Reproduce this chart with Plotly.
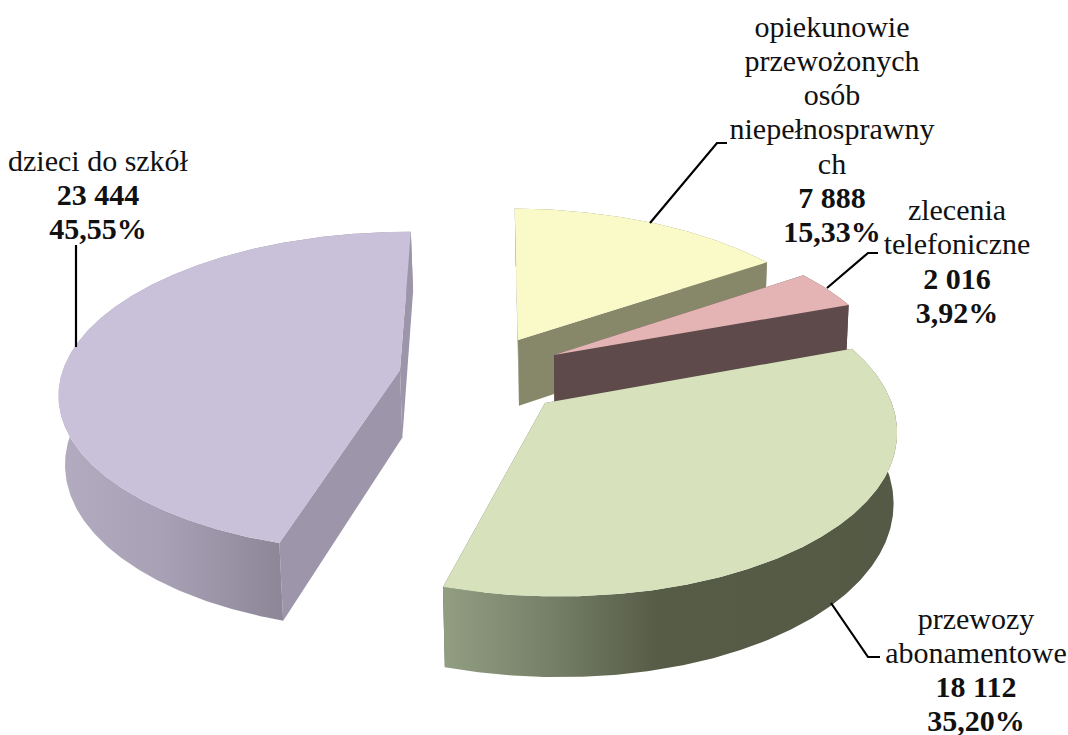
import math
import plotly.graph_objects as go

# ---- data ----
names = ["opiekunowie przewożonych osób niepełnosprawnych", "zlecenia telefoniczne",
         "przewozy abonamentowe", "dzieci do szkół"]
values = [7888, 2016, 18112, 23444]
percents = [15.33, 3.92, 35.20, 45.55]
label_lines = [
    ["opiekunowie", "przewożonych", "osób", "niepełnosprawny", "ch"],
    ["zlecenia", "telefoniczne"],
    ["przewozy", "abonamentowe"],
    ["dzieci do szkół"],
]

# ---- style / layout ----
W, H = 1068, 735
apex = [(518, 340), (554, 355), (545, 403), (400, 370)]
top_col = ["#fafac8", "#e4b3b3", "#d7e2bd", "#c9c0d9"]
wall_col = ["#87876a", "#5e4a4a", "#5a5f4b", "#9d95a9"]
outer_grad = [
    None, None,
    [[0, "#929e82"], [0.22, "#78826a"], [0.47, "#575c47"], [1, "#555a46"]],
    [[0, "#b3abc0"], [0.3, "#a8a0b5"], [0.62, "#8e8798"], [1, "#9d95a9"]],
]
label_pos = [(832, 29), (957, 212.5), (976, 621), (98, 163)]
LINE = 34.3
FONT = dict(family="Liberation Serif", size=30, color="#111111")
leaders = [
    [(650, 223), (717, 143), (727, 143)],
    [(827, 288), (868, 253), (878, 253)],
    [(831, 603), (868, 657), (880, 657)],
    [(76, 347), (76, 245)],
]

R, P, K, XV, YV, DEPTH, SHR, XZ, ROT = 340, 0.138, 0.47, 460, 380, 68, 0.012, 600, 0.7


def ground(ax, ay):
    w = (YV - ay) / K
    s = 1 - P * w / R
    return (ax - XV) / s, w / s


def project(X, Y, z):
    s = 1 / (1 + P * Y / R)
    x = XV + X * s
    y = YV - K * Y * s + z * DEPTH * s
    return x + (XZ - x) * SHR * z, y


def arc(a0, a1, c):
    n = max(8, int(abs(a1 - a0) * 2))
    return [(c[0] + R * math.sin(math.radians(a0 + (a1 - a0) * i / n)),
             c[1] + R * math.cos(math.radians(a0 + (a1 - a0) * i / n))) for i in range(n + 1)]


def poly(fig, pts, color, grad=None):
    trace = dict(x=[p[0] for p in pts] + [pts[0][0]], y=[p[1] for p in pts] + [pts[0][1]],
                 mode="lines", line=dict(width=0), fill="toself", fillcolor=color,
                 hoverinfo="skip", showlegend=False)
    if grad:
        trace["fillgradient"] = dict(type="horizontal", colorscale=grad)
    fig.add_trace(go.Scatter(**trace))


fig = go.Figure()
total = sum(percents)
starts = []
acc = ROT
for p in percents:
    starts.append(acc)
    acc += p * 360 / total

for i in [0, 3, 1, 2]:
    a0 = starts[i]
    a1 = a0 + percents[i] * 360 / total
    c = ground(*apex[i])
    rim = arc(a0, a1, c)
    top = [project(*q, 0) for q in rim]
    bot = [project(*q, 1) for q in rim]
    ctop, cbot = project(*c, 0), project(*c, 1)
    poly(fig, [ctop, top[0], bot[0], cbot], wall_col[i])
    poly(fig, [ctop, top[-1], bot[-1], cbot], wall_col[i])
    poly(fig, top + bot[::-1], wall_col[i], outer_grad[i])
    poly(fig, [ctop] + top, top_col[i])

for path in leaders:
    fig.add_trace(go.Scatter(x=[p[0] for p in path], y=[p[1] for p in path], mode="lines",
                             line=dict(color="#000000", width=2.2), hoverinfo="skip",
                             showlegend=False))

for i, lines in enumerate(label_lines):
    txt = list(lines) + [f"<b>{values[i]:,}</b>".replace(",", " "),
                         f"<b>{percents[i]:.2f}%</b>".replace(".", ",")]
    x0, y0 = label_pos[i]
    fig.add_trace(go.Scatter(x=[x0] * len(txt), y=[y0 + LINE * j for j in range(len(txt))],
                             text=txt, mode="text", textposition="middle center",
                             textfont=FONT, hoverinfo="skip", showlegend=False,
                             cliponaxis=False))

fig.update_layout(width=W, height=H, margin=dict(l=0, r=0, t=0, b=0),
                  paper_bgcolor="white", plot_bgcolor="white",
                  xaxis=dict(range=[0, W], visible=False, fixedrange=True),
                  yaxis=dict(range=[H, 0], visible=False, fixedrange=True))
fig.write_html("out.html", config={"displayModeBar": False},
               post_script="document.body.style.margin='0';document.documentElement.style.overflow='hidden';")
